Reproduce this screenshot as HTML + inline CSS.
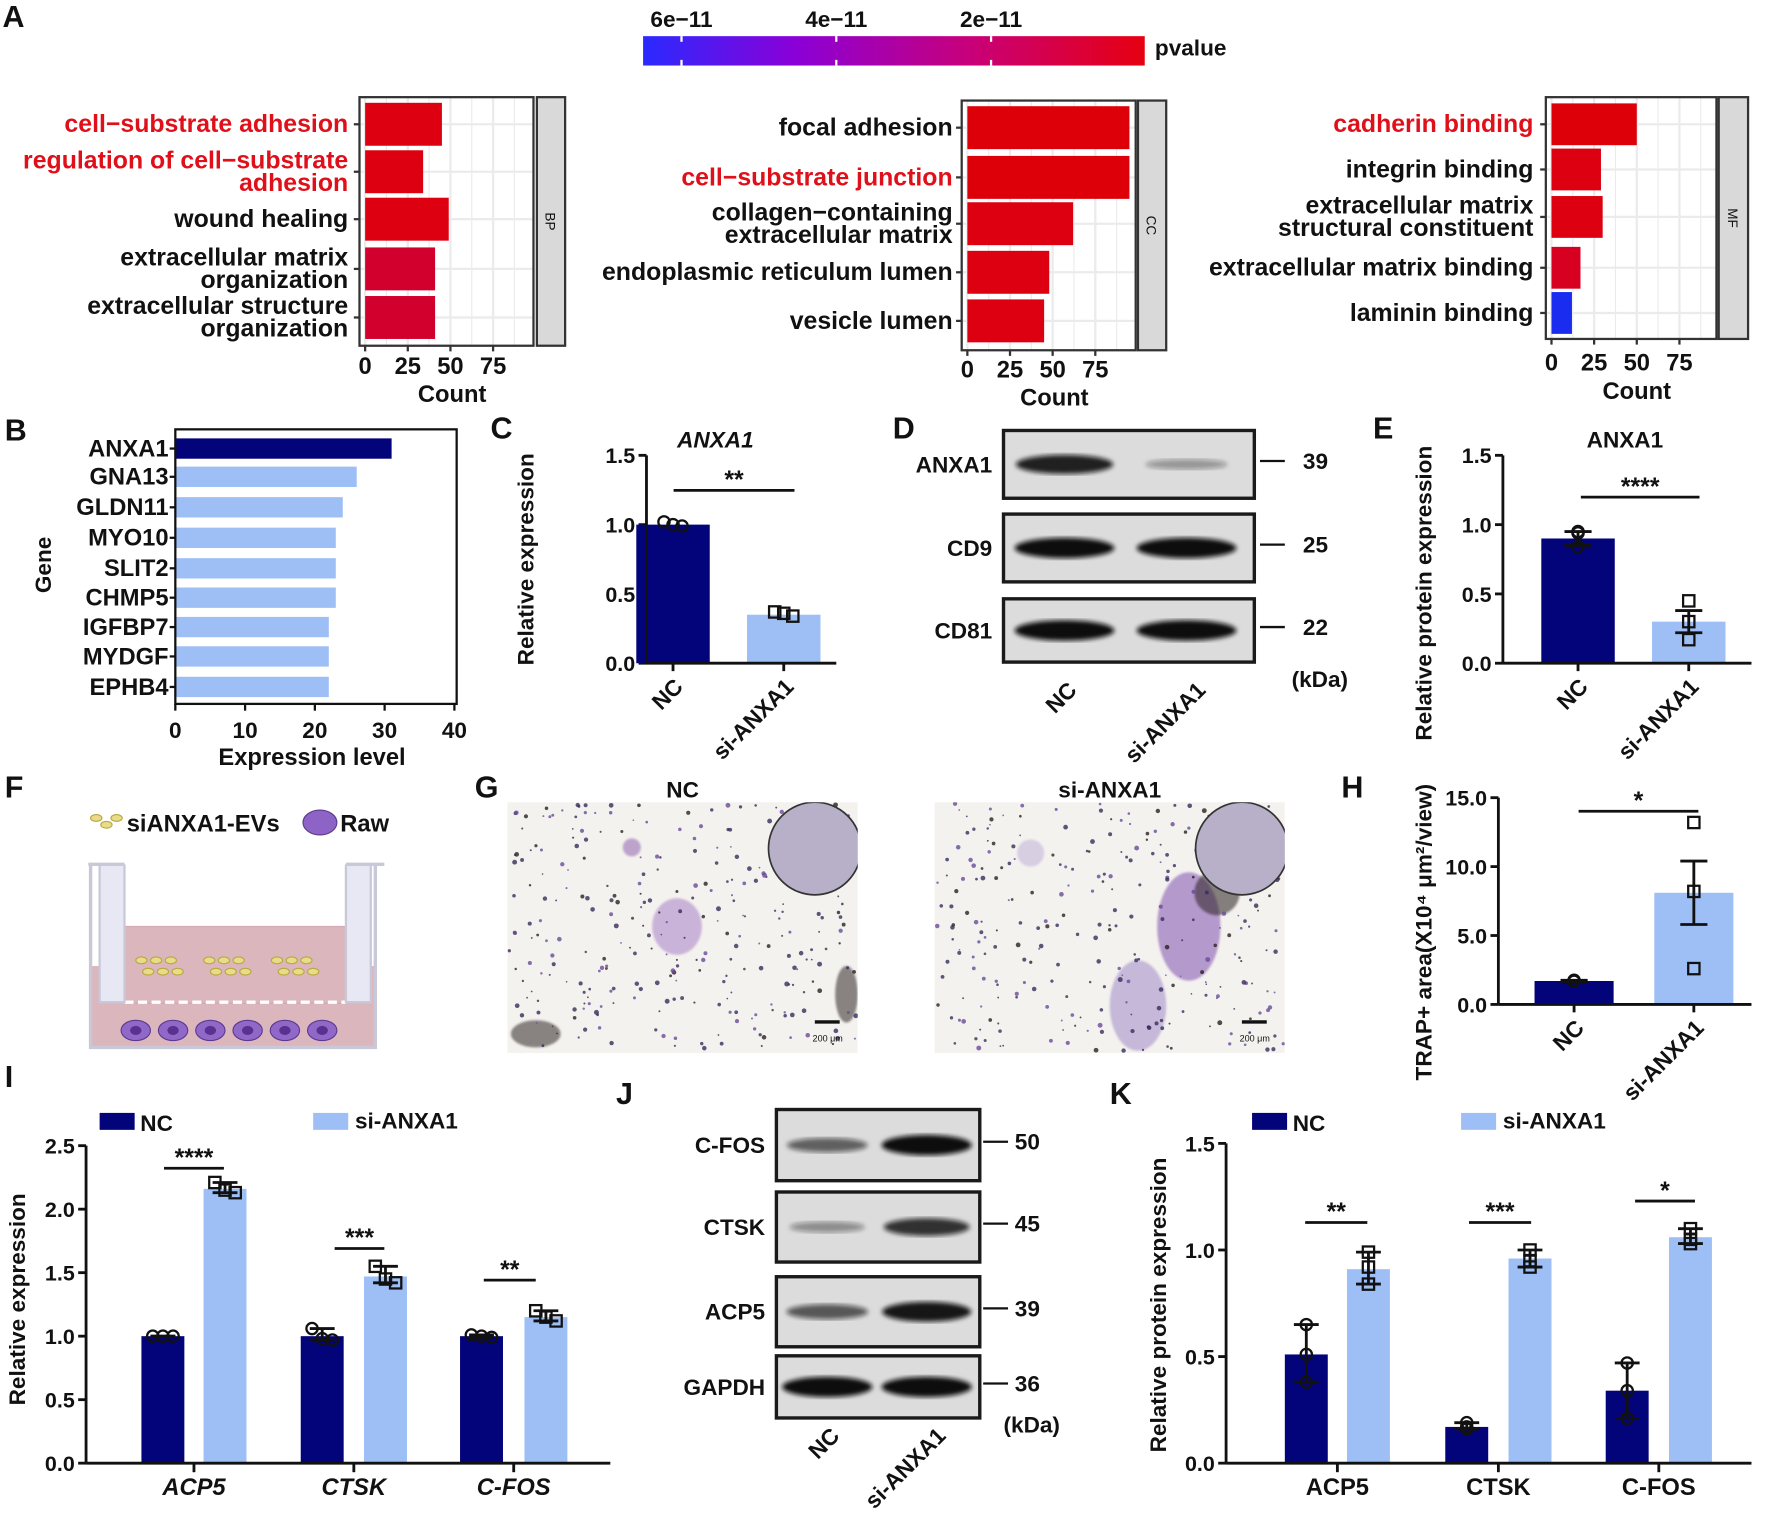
<!DOCTYPE html>
<html><head><meta charset="utf-8"><style>
html,body{margin:0;padding:0;background:#fff;}
svg{display:block;font-family:"Liberation Sans",Arial,sans-serif;}
</style></head><body>
<svg id="fig" width="1772" height="1514" viewBox="0 0 1568 1340" xmlns="http://www.w3.org/2000/svg">
<defs>
<linearGradient id="pgrad" x1="0" x2="1" y1="0" y2="0"><stop offset="0" stop-color="#2a2aff"/><stop offset="0.3" stop-color="#8a00d8"/><stop offset="0.65" stop-color="#c8007a"/><stop offset="1" stop-color="#e60010"/></linearGradient>
<filter id="blur2"><feGaussianBlur stdDeviation="2.2"/></filter>
<filter id="blur1"><feGaussianBlur stdDeviation="1"/></filter>
<clipPath id="clipG1"><rect x="449" y="710" width="310" height="222"/></clipPath>
<clipPath id="clipG2"><rect x="827" y="710" width="310" height="222"/></clipPath>
</defs>
</svg>
<script>
// ---- Panel A data ----
const bpTerms=["cell−substrate adhesion","regulation of cell−substrate|adhesion","wound healing","extracellular matrix|organization","extracellular structure|organization"];
const bpCounts=[45,34,49,41,41];
const bpRed=[true,true,false,false,false];
const ccTerms=["focal adhesion","cell−substrate junction","collagen−containing|extracellular matrix","endoplasmic reticulum lumen","vesicle lumen"];
const ccCounts=[95,95,62,48,45];
const ccRed=[false,true,false,false,false];
const mfTerms=["cadherin binding","integrin binding","extracellular matrix|structural constituent","extracellular matrix binding","laminin binding"];
const mfCounts=[50,29,30,17,12];
const mfRed=[true,false,false,false,false];
const mfColors=["#dd0008","#dd0010","#dd0010","#d80020","#1a2cf0"];
const countTicks=[0,25,50,75];
const pTicks=["6e−11","4e−11","2e−11"];
// ---- Panel B ----
const genes=["ANXA1","GNA13","GLDN11","MYO10","SLIT2","CHMP5","IGFBP7","MYDGF","EPHB4"];
const geneExpr=[31,26,24,23,23,23,22,22,22];
const exprTicks=[0,10,20,30,40];
// ---- Panel C ----
const cGroups=["NC","si-ANXA1"];
const cMeans=[1.0,0.35];
const cPts=[[1.02,1.0,0.99],[0.37,0.36,0.34]];
const cTicks=[0,0.5,1.0,1.5];
// ---- Panel E ----
const eMeans=[0.9,0.3];
const ePts=[[0.95,0.94,0.84],[0.45,0.30,0.17]];
const eErr=[0.05,0.08];
// ---- Panel H ----
const hMeans=[1.7,8.1];
const hPts=[[1.75,1.7,1.68],[13.2,8.2,2.6]];
const hErr=[0.05,2.3];
const hTicks=[0,5,10,15];
// ---- Panel I ----
const iGenes=["ACP5","CTSK","C-FOS"];
const iNC=[1.0,1.0,1.0];
const iSi=[2.16,1.47,1.15];
const iNCpts=[[1.0,1.0,1.0],[1.06,0.98,0.97],[1.01,1.0,0.99]];
const iSipts=[[2.21,2.15,2.13],[1.55,1.45,1.42],[1.2,1.15,1.12]];
const iTicks=[0,0.5,1.0,1.5,2.0,2.5];
const iSig=["****","***","**"];
// ---- Panel K ----
const kNC=[0.51,0.17,0.34];
const kSi=[0.91,0.96,1.06];
const kNCpts=[[0.65,0.51,0.38],[0.19,0.16,0.17],[0.47,0.34,0.21]];
const kSipts=[[0.99,0.92,0.84],[1.0,0.95,0.92],[1.1,1.05,1.03]];
const kTicks=[0,0.5,1.0,1.5];
const kSig=["**","***","*"];
// ---- Blots ----
const dProteins=["ANXA1","CD9","CD81"];
const dKda=["39","25","22"];
const dNC=[0.9,1.0,1.0];
const dSi=[0.25,1.0,1.0];
const jProteins=["C-FOS","CTSK","ACP5","GAPDH"];
const jKda=["50","45","39","36"];
const jNC=[0.55,0.3,0.6,1.0];
const jSi=[1.0,0.8,0.95,1.0];

const NAVY="#03037a", LBLUE="#9dbff5";
const svg=document.getElementById('fig');
const NS="http://www.w3.org/2000/svg";
function el(tag,attrs,parent,text){const e=document.createElementNS(NS,tag);for(const k in attrs)e.setAttribute(k,attrs[k]);if(text!==undefined)e.textContent=text;(parent||svg).appendChild(e);return e;}
function grp(name){const g=el('g',{});return g;}
function txt(g,x,y,s,opt){opt=opt||{};const t=el('text',{x:x,y:y,'font-size':opt.fs||20,'font-weight':opt.fw||'bold','text-anchor':opt.anchor||'start',fill:opt.fill||'#111','font-style':opt.it?'italic':'normal'},g,s);if(opt.rot!==undefined)t.setAttribute('transform','rotate('+opt.rot+' '+x+' '+y+')');return t;}

// Panel letters
const letters=[["A",2,24],["B",4,390],["C",434,388],["D",790,388],["E",1215,388],["F",4,706],["G",420,706],["H",1187,706],["I",4,962],["J",545,977],["K",982,977]];
letters.forEach(l=>{const t=txt(svg,l[1],l[2],l[0],{fs:27});});

// Colorbar
{const g=grp('pvalue-colorbar');
el('rect',{x:569,y:32,width:444,height:26,fill:'url(#pgrad)'},g);
pTicks.forEach((s,i)=>{const x=603+i*137;el('line',{x1:x,x2:x,y1:32,y2:37,stroke:'#fff','stroke-width':2},g);el('line',{x1:x,x2:x,y1:53,y2:58,stroke:'#fff','stroke-width':2},g);txt(g,x,24,s,{anchor:'middle',fs:20});});
txt(g,1022,49,'pvalue',{fs:20});}

function goPanel(name,box,strip,stripLabel,terms,counts,reds,colors,rowY,barH,labelRight,tickY){
 const g=grp(name);
 const [x0,y0,x1,y1]=box;
 const sx=v=>box[0]+5+v*(1.51);
 el('rect',{x:x0,y:y0,width:x1-x0,height:y1-y0,fill:'#fff'},g);
 for(let v=0;v<=100;v+=12.5){const x=sx(v);if(x<x1)el('line',{x1:x,x2:x,y1:y0,y2:y1,stroke:'#ebebeb','stroke-width':v%25==0?2:1},g);}
 rowY.forEach(y=>el('line',{x1:x0,x2:x1,y1:y,y2:y,stroke:'#ebebeb','stroke-width':2},g));
 counts.forEach((c,i)=>{const b=el('rect',{x:sx(0),y:rowY[i]-barH/2,width:sx(c)-sx(0),height:barH,fill:colors[i]},g);
  
  el('line',{x1:x0-5,x2:x0,y1:rowY[i],y2:rowY[i],stroke:'#333','stroke-width':2},g);
  const lines=terms[i].split('|');const lh=20;const start=rowY[i]+7-(lines.length-1)*lh/2;
  lines.forEach((s,k)=>txt(g,labelRight,start+k*lh,s,{anchor:'end',fs:22,fill:reds[i]?'#e0101a':'#111'}));});
 el('rect',{x:x0,y:y0,width:x1-x0,height:y1-y0,fill:'none',stroke:'#333','stroke-width':2},g);
 el('rect',{x:strip[0],y:y0,width:strip[1]-strip[0],height:y1-y0,fill:'#d9d9d9',stroke:'#333','stroke-width':2},g);
 txt(g,(strip[0]+strip[1])/2-5,(y0+y1)/2,stripLabel,{fs:12,fw:'normal',anchor:'middle',rot:90});
 countTicks.forEach(v=>{const x=sx(v);el('line',{x1:x,x2:x,y1:y1,y2:y1+5,stroke:'#333','stroke-width':2},g);txt(g,x,tickY,String(v),{anchor:'middle',fs:21});});
 txt(g,(x0+x1)/2+5,tickY+25,'Count',{anchor:'middle',fs:21});
}
goPanel('bp-go-chart',[318,86,472,306],[475,500],'BP',bpTerms,bpCounts,bpRed,["#dd0010","#dd0010","#dd0010","#d2002c","#d2002c"],[110,152,194,238,281],38,308,331);
goPanel('cc-go-chart',[851,89,1005,310],[1007,1032],'CC',ccTerms,ccCounts,ccRed,["#dd0008","#dd0008","#dd0010","#dd0010","#dd0010"],[113,157,198,241,284],38,843,334);
goPanel('mf-go-chart',[1368,86,1519,300],[1521,1547],'MF',mfTerms,mfCounts,mfRed,mfColors,[110,150,192,237,277],37,1357,328);

// Panel B
{const g=grp('gene-expression-chart');
const x0=155,x1=404,y0=380,y1=623;const sx=v=>x0+v*6.175;
const rows=[397,422,449,476,503,529,555,581,608];
genes.forEach((n,i)=>{const b=el('rect',{x:x0,y:rows[i]-9,width:sx(geneExpr[i])-x0,height:18,fill:i==0?NAVY:LBLUE},g);
 el('line',{x1:x0-5,x2:x0,y1:rows[i],y2:rows[i],stroke:'#111','stroke-width':2},g);
 txt(g,x0-6,rows[i]+7,n,{anchor:'end',fs:21});});
el('rect',{x:x0,y:y0,width:x1-x0,height:y1-y0,fill:'none',stroke:'#111','stroke-width':2},g);
exprTicks.forEach(v=>{const x=sx(v);el('line',{x1:x,x2:x,y1:y1,y2:y1+6,stroke:'#111','stroke-width':2},g);txt(g,x,653,String(v),{anchor:'middle',fs:20});});
txt(g,276,677,'Expression level',{anchor:'middle',fs:21});
txt(g,45,500,'Gene',{anchor:'middle',fs:20,rot:-90});}

// Generic two-bar chart
function twoBar(name,o){
 const g=grp(name);
 const sy=v=>o.yb-(v/o.max)*(o.yb-o.yt);
 o.ticks.forEach(v=>{const y=sy(v);el('line',{x1:o.ax-7,x2:o.ax,y1:y,y2:y,stroke:'#111','stroke-width':2.5},g);txt(g,o.ax-10,y+7,o.fmt(v),{anchor:'end',fs:19});});
 o.means.forEach((m,i)=>{const bx=o.bx[i];const b=el('rect',{x:bx,y:sy(m),width:o.bw,height:o.yb-sy(m),fill:i==0?NAVY:LBLUE},g);
  const cx=bx+o.bw/2;
  if(o.err){el('line',{x1:cx,x2:cx,y1:sy(m+o.err[i]),y2:sy(m-o.err[i]),stroke:'#111','stroke-width':2.5},g);
   [m+o.err[i],m-o.err[i]].forEach(v=>el('line',{x1:cx-12,x2:cx+12,y1:sy(v),y2:sy(v),stroke:'#111','stroke-width':2.5},g));}
  o.pts[i].forEach((v,k)=>{const dx=(k-1)*(o.spread||0);if(i==0)el('circle',{cx:cx+dx,cy:sy(v),r:5,fill:'none',stroke:'#111','stroke-width':2},g);else el('rect',{x:cx+dx-5,y:sy(v)-5,width:10,height:10,fill:'none',stroke:'#111','stroke-width':2},g);});
  el('line',{x1:cx,x2:cx,y1:o.yb,y2:o.yb+7,stroke:'#111','stroke-width':2.5},g);
  txt(g,cx+10,o.yb+22,o.names[i],{anchor:'end',fs:20,rot:-45});});
 el('line',{x1:o.ax,x2:o.ax,y1:o.yt,y2:o.yb,stroke:'#111','stroke-width':2.5},g);
 el('line',{x1:o.ax,x2:o.axEnd,y1:o.yb,y2:o.yb,stroke:'#111','stroke-width':2.5},g);
 el('line',{x1:o.sig[0],x2:o.sig[1],y1:o.sig[2],y2:o.sig[2],stroke:'#111','stroke-width':2.5},g);
 txt(g,(o.sig[0]+o.sig[1])/2,o.sig[2]-2,o.sig[3],{anchor:'middle',fs:22});
 if(o.title)txt(g,o.title[0],o.title[1],o.title[2],{anchor:'middle',fs:20,it:o.title[3]});
 txt(g,o.yl[0],o.yl[1],o.yl[2],{anchor:'middle',fs:20,rot:-90});
}
const f1=v=>v.toFixed(1);
twoBar('anxa1-relative-expression-chart',{ax:572,axEnd:740,yt:403,yb:587,max:1.5,ticks:cTicks,fmt:f1,means:cMeans,pts:cPts,bx:[563,661],bw:65,spread:8,names:cGroups,sig:[596,703,434,'**'],title:[633,396,'ANXA1',true],yl:[472,495,'Relative expression']});
twoBar('anxa1-protein-expression-chart',{ax:1330,axEnd:1550,yt:403,yb:587,max:1.5,ticks:cTicks,fmt:f1,means:eMeans,pts:ePts,err:eErr,bx:[1364,1462],bw:65,spread:0,names:cGroups,sig:[1399,1504,440,'****'],title:[1438,396,'ANXA1',false],yl:[1267,525,'Relative protein expression']});
twoBar('trap-area-chart',{ax:1326,axEnd:1550,yt:706,yb:889,max:15,ticks:hTicks,fmt:f1,means:hMeans,pts:hPts,err:hErr,bx:[1358,1464],bw:70,spread:0,names:cGroups,sig:[1397,1503,718,'*'],title:null,yl:[1267,825,'TRAP+ area(X10⁴ μm²/view)']});
// Grouped charts
function grouped(name,o){
 const g=grp(name);
 const sy=v=>o.yb-(v/o.max)*(o.yb-o.yt);
 o.ticks.forEach(v=>{const y=sy(v);el('line',{x1:o.ax-7,x2:o.ax,y1:y,y2:y,stroke:'#111','stroke-width':2.5},g);txt(g,o.ax-10,y+7,f1(v),{anchor:'end',fs:19});});
 iGenes.forEach((gn,i)=>{[[o.nc,o.ncp,o.ncx],[o.si,o.sip,o.six]].forEach((s,j)=>{
  const m=s[0][i],bx=s[2][i],cx=bx+19;
  const b=el('rect',{x:bx,y:sy(m),width:38,height:o.yb-sy(m),fill:j==0?NAVY:LBLUE},g);
  const pts=s[1][i];const mx=Math.max(...pts),mn=Math.min(...pts);
  el('line',{x1:cx,x2:cx,y1:sy(mx),y2:sy(mn),stroke:'#111','stroke-width':2.5},g);
  [mx,mn].forEach(v=>el('line',{x1:cx-11,x2:cx+11,y1:sy(v),y2:sy(v),stroke:'#111','stroke-width':2.5},g));
  pts.forEach((v,k)=>{const dx=o.spread*(k-1);if(j==0)el('circle',{cx:cx+dx,cy:sy(v),r:5,fill:'none',stroke:'#111','stroke-width':2},g);else el('rect',{x:cx+dx-5,y:sy(v)-5,width:10,height:10,fill:'none',stroke:'#111','stroke-width':2},g);});});
  const tx=(o.ncx[i]+o.six[i]+38)/2;
  el('line',{x1:tx,x2:tx,y1:o.yb,y2:o.yb+8,stroke:'#111','stroke-width':2.5},g);
  txt(g,tx,o.yb+28,gn,{anchor:'middle',fs:21,it:o.italic});
  const sg=o.sig[i];el('line',{x1:sg[0],x2:sg[1],y1:sg[2],y2:sg[2],stroke:'#111','stroke-width':2.5},g);
  txt(g,(sg[0]+sg[1])/2,sg[2]-2,o.sigT[i],{anchor:'middle',fs:22});});
 el('line',{x1:o.ax,x2:o.ax,y1:o.yt,y2:o.yb,stroke:'#111','stroke-width':2.5},g);
 el('line',{x1:o.ax,x2:o.axEnd,y1:o.yb,y2:o.yb,stroke:'#111','stroke-width':2.5},g);
 el('rect',{x:o.leg[0],y:o.leg[2],width:31,height:15,fill:NAVY},g);txt(g,o.leg[0]+36,o.leg[2]+16,'NC',{fs:20});
 el('rect',{x:o.leg[1],y:o.leg[2],width:31,height:15,fill:LBLUE},g);txt(g,o.leg[1]+37,o.leg[2]+14,'si-ANXA1',{fs:20});
 txt(g,o.yl[0],o.yl[1],o.yl[2],{anchor:'middle',fs:20,rot:-90});
}
grouped('gene-relative-expression-chart',{ax:76,axEnd:540,yt:1014,yb:1295,max:2.5,ticks:iTicks,nc:iNC,ncp:iNCpts,ncx:[125,266,407],si:iSi,sip:iSipts,six:[180,322,464],spread:9,italic:true,sig:[[145,198,1034],[296,340,1105],[428,474,1133]],sigT:iSig,leg:[88,277,985],yl:[22,1150,'Relative expression']});
grouped('gene-protein-expression-chart',{ax:1085,axEnd:1550,yt:1012,yb:1295,max:1.5,ticks:kTicks,nc:kNC,ncp:kNCpts,ncx:[1137,1279,1421],si:kSi,sip:kSipts,six:[1192,1335,1477],spread:0,italic:false,sig:[[1155,1210,1082],[1300,1355,1082],[1447,1500,1063]],sigT:kSig,leg:[1108,1293,985],yl:[1032,1155,'Relative protein expression']});

// Blots
function blot(name,x0,x1,rows,prots,kda,nc,si,labelX,markX,numX,lanes,bandW,bottom){
 const g=grp(name);
 rows.forEach((r,i)=>{
  el('rect',{x:x0,y:r[0],width:x1-x0,height:r[1]-r[0],fill:'#dcdcdc',stroke:'#1a1a1a','stroke-width':3},g);
  const cy=(r[0]+r[1])/2;
  [nc[i],si[i]].forEach((v,k)=>{const b=el('ellipse',{cx:lanes[k],cy:cy,rx:bandW*(0.8+0.25*v),ry:3+6*v,fill:'#111','fill-opacity':0.15+0.85*v,filter:'url(#blur2)'},g);});
  txt(g,labelX,cy+7,prots[i],{anchor:'end',fs:20});
  el('line',{x1:markX,x2:markX+22,y1:cy-3,y2:cy-3,stroke:'#111','stroke-width':2},g);
  txt(g,numX,cy+4,kda[i],{fs:20});});
 txt(g,lanes[0]+12,bottom,'NC',{anchor:'end',fs:20,rot:-45});
 txt(g,lanes[1]+18,bottom,'si-ANXA1',{anchor:'end',fs:20,rot:-45});
 txt(g,numX-10,bottom-4,'(kDa)',{fs:20});
}
blot('western-blot-d',888,1110,[[381,441],[455,515],[530,586]],dProteins,dKda,dNC,dSi,878,1115,1153,[942,1050],42,612);
blot('western-blot-j',687,867,[[982,1045],[1055,1117],[1130,1192],[1200,1255]],jProteins,jKda,jNC,jSi,677,870,898,[732,820],38,1272);

// Panel F schematic
{const g=grp('transwell-schematic');
for(let i=0;i<3;i++)el('ellipse',{cx:85+i*9,cy:724+(i%2)*6,rx:5,ry:3,fill:'#e8dc88',stroke:'#b8a840'},g);
txt(g,112,736,'siANXA1-EVs',{fs:21});
el('ellipse',{cx:283,cy:728,rx:15,ry:11,fill:'#8e63c6',stroke:'#5a3a90'},g);
txt(g,301,736,'Raw',{fs:21});
el('rect',{x:80,y:855,width:252,height:72,fill:'#dcb6bd'},g);
el('rect',{x:110,y:820,width:196,height:68,fill:'#dcb6bd',stroke:'#d0aab0'},g);
el('line',{x1:110,x2:306,y1:887,y2:887,stroke:'#fff','stroke-width':3,'stroke-dasharray':'8 4'},g);
el('path',{d:'M80 765 V927 H332 V765',fill:'none',stroke:'#c8c8d8','stroke-width':3},g);
el('path',{d:'M88 765 V887 H110 V765 M306 765 V887 H328 V765',fill:'#e8e8f4',stroke:'#c8c8d8','stroke-width':2},g);
el('path',{d:'M78 765 H110 M306 765 H340',stroke:'#c8c8d8','stroke-width':3},g);
[[125,855],[185,855],[245,855]].forEach(p=>{for(let a=0;a<3;a++)for(let b=0;b<2;b++)el('ellipse',{cx:p[0]+a*13+b*6,cy:p[1]+b*10-5,rx:5,ry:3,fill:'#e8dc88',stroke:'#b8a840'},g);});
for(let i=0;i<6;i++){el('ellipse',{cx:120+i*33,cy:912,rx:13,ry:9,fill:'#9068c8',stroke:'#5a3a90'},g);el('ellipse',{cx:120+i*33,cy:912,rx:5,ry:4,fill:'#5a3090'},g);}
}

// Panel G micrographs (decorative speckles, deterministic)
function micro(name,x0,title,blobs,clip){
 const g=grp(name);
 txt(g,x0+155,706,title,{anchor:'middle',fs:20});
 const ig=el('g',{'clip-path':'url(#'+clip+')'},g);
 el('rect',{x:x0,y:710,width:310,height:222,fill:'#f4f2ee'},ig);
 blobs.forEach(b=>el('ellipse',{cx:x0+b[0],cy:710+b[1],rx:b[2],ry:b[3],fill:b[4],'fill-opacity':0.55,filter:'url(#blur1)'},ig));
 let s=x0*7+3;const rnd=()=>{s=(s*16807)%2147483647;return s/2147483647;};
 for(let i=0;i<280;i++){const x=x0+rnd()*308+1,y=711+rnd()*219;const d=rnd();el('circle',{cx:x,cy:y,r:0.7+rnd()*1.5,fill:d<0.5?'#3a2a5a':(d<0.8?'#6a4a9a':'#2a2020'),'fill-opacity':0.8},ig);}
 el('circle',{cx:x0+272,cy:751,r:41,fill:'#b8b0c8',stroke:'#333','stroke-width':1.5},ig);
 el('rect',{x:x0+272,y:903,width:22,height:3,fill:'#111'},ig);
 txt(ig,x0+270,922,'200 μm',{fs:8,fw:'normal'});
}
micro('micrograph-nc',449,'NC',[[150,110,22,25,'#a880c8'],[110,40,8,8,'#9060b0'],[25,205,22,12,'#302828'],[300,170,10,25,'#302828']],'clipG1');
micro('micrograph-si-anxa1',827,'si-ANXA1',[[225,110,28,48,'#8050b0'],[180,180,25,40,'#a088c8'],[85,45,12,12,'#c0b0d8'],[250,80,20,20,'#2a2020']],'clipG2');
</script>
</body></html>
